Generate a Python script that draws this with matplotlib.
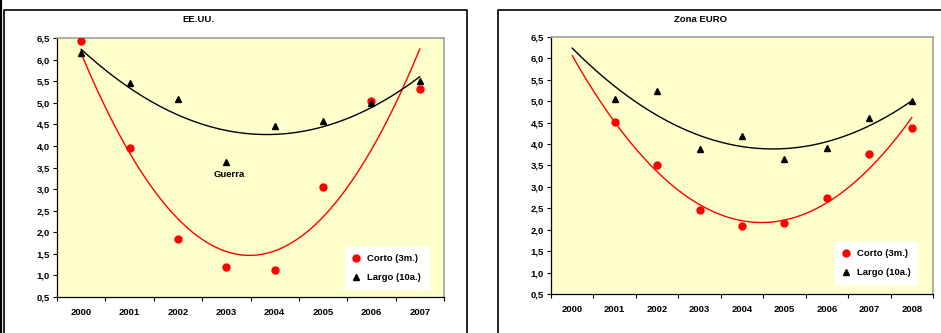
import numpy as np
import matplotlib
matplotlib.use("Agg")
import matplotlib.pyplot as plt
from matplotlib.lines import Line2D

plt.rcParams['font.family'] = ['Liberation Sans', 'DejaVu Sans']
plt.rcParams['font.weight'] = 'bold'

# --- data -------------------------------------------------------------
us_years = ["2000", "2001", "2002", "2003", "2004", "2005", "2006", "2007"]
us_corto = [6.42, 3.95, 1.84, 1.20, 1.12, 3.04, 5.05, 5.31]
us_largo = [6.15, 5.46, 5.09, 3.63, 4.47, 4.57, 4.99, 5.50]

eu_years = ["2000", "2001", "2002", "2003", "2004", "2005", "2006", "2007", "2008"]
eu_corto = [None, 4.52, 3.50, 2.45, 2.08, 2.15, 2.73, 3.76, 4.38]
eu_largo = [None, 5.06, 5.25, 3.88, 4.18, 3.66, 3.92, 4.60, 5.00]

y_ticks = [0.5, 1.0, 1.5, 2.0, 2.5, 3.0, 3.5, 4.0, 4.5, 5.0, 5.5, 6.0, 6.5]

W, H = 941, 333
fig = plt.figure(figsize=(W / 100, H / 100), dpi=100)
fig.patch.set_facecolor("white")

BG = "#FFFFCC"
RED = "#FF0000"
FS = 6.8


def px_axes(x0, y0, x1, y1):
    return fig.add_axes([x0 / W, 1 - y1 / H, (x1 - x0) / W, (y1 - y0) / H])


def fig_line(xs, ys, lw=1.2, color="black"):
    fig.add_artist(Line2D([x / W for x in xs], [1 - y / H for y in ys],
                          transform=fig.transFigure, color=color, lw=lw))


def panel(ax, years, corto, largo):
    n = len(years)
    idx = np.arange(n)
    ax.set_facecolor(BG)
    ax.set_xlim(-0.5, n - 0.5)
    ax.set_ylim(0.5, 6.5)

    # trend lines (2nd-order polynomial over the available points)
    xs = np.linspace(0, n - 1, 200)
    for vals, col in ((corto, RED), (largo, "black")):
        mask = np.array([v is not None for v in vals])
        yv = np.array([v if v is not None else np.nan for v in vals], float)
        coef = np.polyfit(idx[mask], yv[mask], 2)
        ax.plot(xs, np.polyval(coef, xs), color=col, lw=1.0, zorder=2)

    cx = [i for i, v in enumerate(corto) if v is not None]
    cy = [v for v in corto if v is not None]
    lx = [i for i, v in enumerate(largo) if v is not None]
    ly = [v for v in largo if v is not None]
    ax.plot(cx, cy, "o", color=RED, ms=5, mec=RED, ls="none",
            label="Corto (3m.)", zorder=3)
    ax.plot(lx, ly, "^", color="black", ms=4.5, ls="none",
            label="Largo (10a.)", zorder=3)

    ax.set_yticks(y_ticks)
    ax.set_yticklabels([f"{t:.1f}".replace(".", ",") for t in y_ticks],
                       fontsize=FS, fontweight="bold")
    ax.set_xticks(idx)
    ax.set_xticklabels(years, fontsize=FS, fontweight="bold")
    ax.set_xticks(np.arange(n + 1) - 0.5, minor=True)
    ax.tick_params(axis="x", which="major", length=0, pad=8)
    ax.tick_params(axis="x", which="minor", length=3, width=0.8, direction="out")
    ax.tick_params(axis="y", length=3, width=0.8, pad=2)
    for s in ("left", "bottom"):
        ax.spines[s].set_color("black")
        ax.spines[s].set_linewidth(0.9)
    for s in ("top", "right"):
        ax.spines[s].set_color("#A0A0A0")
        ax.spines[s].set_linewidth(1.2)


def legend(ax, anchor):
    leg = ax.legend(loc="lower left", bbox_to_anchor=anchor, mode="expand",
                    borderaxespad=0, fontsize=FS, frameon=True, fancybox=False,
                    handlelength=1.0, handletextpad=0.6, labelspacing=1.1,
                    borderpad=0.7)
    leg.get_frame().set_facecolor("white")
    leg.get_frame().set_edgecolor("white")
    leg.get_frame().set_alpha(1)
    return leg


# left panel: EE.UU.
ax1 = px_axes(57, 38, 444, 297)
panel(ax1, us_years, us_corto, us_largo)
ax1.text(3.07, 3.33, "Guerra", ha="center", va="center", fontsize=FS,
         fontweight="bold")
legend(ax1, (0.744, 0.031, 0.217, 0.162))
fig.text(198 / W, 1 - 20 / H, "EE.UU.", ha="center", va="center",
         fontsize=FS, fontweight="bold")

# right panel: Zona EURO
ax2 = px_axes(551, 37, 933, 294)
panel(ax2, eu_years, eu_corto, eu_largo)
legend(ax2, (0.743, 0.039, 0.215, 0.156))
fig.text(700 / W, 1 - 20 / H, "Zona EURO", ha="center", va="center",
         fontsize=FS, fontweight="bold")

# chart frames
fig_line([0.8, 0.8], [0, H], lw=1.6)
fig_line([3.5, 3.5, 467, 467], [H, 9.5, 9.5, H], lw=1.2)
fig_line([497.5, 497.5, W], [H, 9.5, 9.5], lw=1.2)

fig.savefig("out.png", dpi=100, facecolor="white")
